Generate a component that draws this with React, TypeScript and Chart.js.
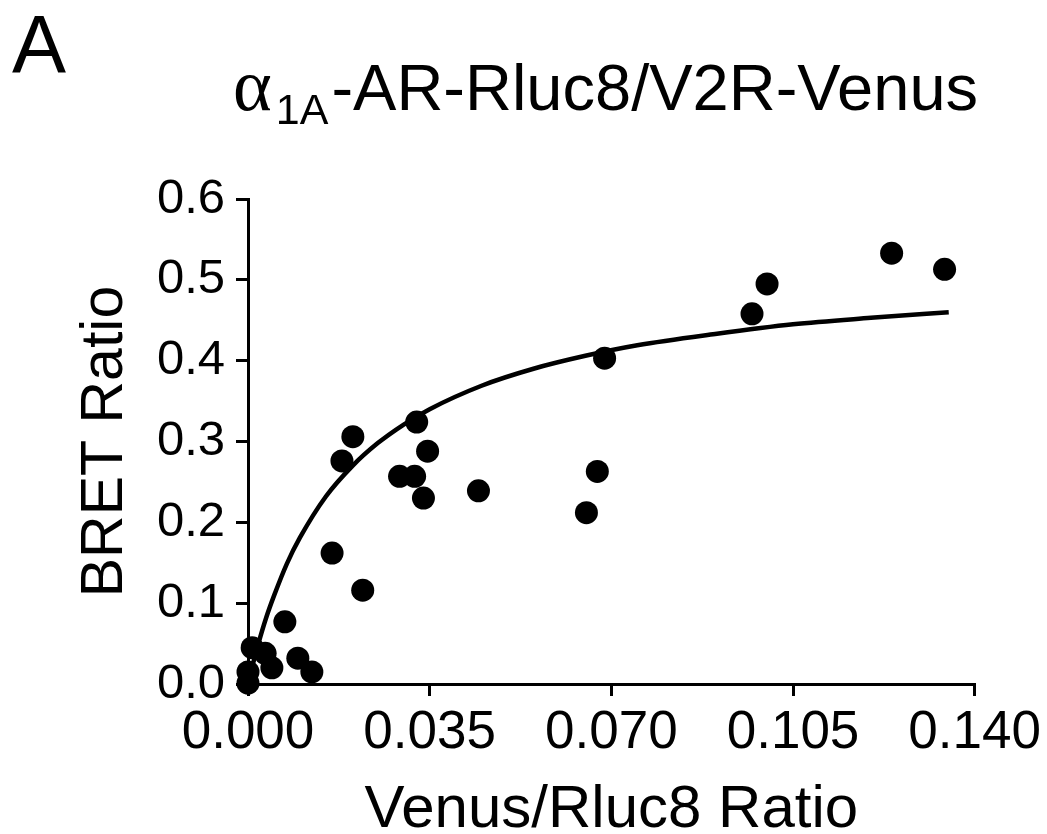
import React, { useEffect, useRef } from "react";
import { Chart, registerables } from "chart.js";

Chart.register(...registerables);

// Measured data points (Venus/Rluc8 ratio, BRET ratio)
const pointX = [
  0.0, 0.0, 0.0008, 0.0033, 0.0046, 0.0096, 0.0123, 0.0071, 0.0162, 0.0221,
  0.0202, 0.0181, 0.0325, 0.0346, 0.0292, 0.0321, 0.0338, 0.0444, 0.0673, 0.0652,
  0.0687, 0.0971, 0.1, 0.124, 0.1342,
];
const pointY = [
  0.001, 0.015, 0.045, 0.038, 0.02, 0.032, 0.015, 0.077, 0.162, 0.116,
  0.306, 0.276, 0.324, 0.288, 0.257, 0.257, 0.23, 0.239, 0.263, 0.212,
  0.403, 0.458, 0.495, 0.533, 0.513,
];

// Fitted saturation curve
const curveX = [
  0.0, 0.001, 0.002, 0.0035, 0.005, 0.0075, 0.01, 0.015, 0.02, 0.025, 0.03, 0.035,
  0.045, 0.055, 0.065, 0.075, 0.09, 0.105, 0.12, 0.135,
];
const curveY = [
  0.0, 0.026, 0.05, 0.082, 0.109, 0.149, 0.181, 0.232, 0.269, 0.298, 0.321, 0.34,
  0.369, 0.39, 0.406, 0.419, 0.433, 0.445, 0.453, 0.46,
];

const xTicks = [0.0, 0.035, 0.07, 0.105, 0.14];
const yTicks = [0.0, 0.1, 0.2, 0.3, 0.4, 0.5, 0.6];

const FONT = "'Liberation Sans', Arial, Helvetica, sans-serif";

export default function App() {
  const ref = useRef<HTMLCanvasElement | null>(null);

  useEffect(() => {
    if (!ref.current) return;
    const chart = new Chart(ref.current, {
      type: "scatter",
      data: {
        datasets: [
          {
            label: "data",
            data: pointX.map((x, i) => ({ x, y: pointY[i] })),
            backgroundColor: "#000",
            borderColor: "#000",
            pointRadius: 11.5,
            pointHoverRadius: 11.5,
            borderWidth: 0,
            clip: false as any,
          },
          {
            label: "fit",
            type: "line" as any,
            data: curveX.map((x, i) => ({ x, y: curveY[i] })),
            borderColor: "#000",
            borderWidth: 4.5,
            pointRadius: 0,
            fill: false,
            cubicInterpolationMode: "monotone",
            showLine: true,
          } as any,
        ],
      },
      options: {
        responsive: false,
        animation: false,
        devicePixelRatio: 1,
        layout: { padding: { top: 199, right: 71, left: 0, bottom: 0 } },
        plugins: {
          legend: { display: false },
          tooltip: { enabled: false },
          title: { display: false },
        },
        scales: {
          x: {
            type: "linear",
            min: 0,
            max: 0.14,
            afterBuildTicks: (s: any) => {
              s.ticks = xTicks.map((v) => ({ value: v }));
            },
            afterFit: (s: any) => {
              s.height = 150;
            },
            ticks: {
              color: "#000",
              font: { family: FONT, size: 53 },
              padding: 6,
              maxRotation: 0,
              callback: (v: any) => Number(v).toFixed(3),
            },
            grid: {
              display: true,
              drawOnChartArea: false,
              drawTicks: true,
              tickLength: 12,
              color: "#000",
              lineWidth: 3,
            },
            border: { display: true, color: "#000", width: 3 },
            title: {
              display: true,
              text: "Venus/Rluc8 Ratio",
              color: "#000",
              font: { family: FONT, size: 60 },
              padding: { top: 0, bottom: -12 },
            },
          },
          y: {
            type: "linear",
            min: 0,
            max: 0.6,
            afterBuildTicks: (s: any) => {
              s.ticks = yTicks.map((v) => ({ value: v }));
            },
            afterFit: (s: any) => {
              s.width = 248;
            },
            ticks: {
              color: "#000",
              font: { family: FONT, size: 49 },
              padding: 11,
              callback: (v: any) => Number(v).toFixed(1),
            },
            grid: {
              display: true,
              drawOnChartArea: false,
              drawTicks: true,
              tickLength: 12,
              color: "#000",
              lineWidth: 3,
            },
            border: { display: true, color: "#000", width: 3 },
            title: {
              display: true,
              text: "BRET Ratio",
              color: "#000",
              font: { family: FONT, size: 59 },
              padding: { top: 70, bottom: 0 },
            },
          },
        },
      },
    });
    return () => chart.destroy();
  }, []);

  return (
    <div
      style={{
        position: "absolute",
        left: 0,
        top: 0,
        width: 1047,
        height: 834,
        background: "#fff",
        fontFamily: FONT,
        color: "#000",
      }}
    >
      <canvas ref={ref} width={1047} height={834} style={{ position: "absolute", left: 0, top: 0 }} />
      <div
        style={{
          position: "absolute",
          left: 12,
          top: 4,
          fontSize: 81,
          lineHeight: "81px",
        }}
      >
        A
      </div>
      <div
        style={{
          position: "absolute",
          left: 233,
          top: 53,
          fontSize: 65,
          lineHeight: "65px",
          whiteSpace: "nowrap",
        }}
      >
        <span style={{ fontFamily: "'Liberation Serif', 'Times New Roman', serif", fontSize: 74 }}>α</span>
        <span style={{ fontSize: 43, position: "relative", top: 14, marginLeft: 4 }}>1A</span>
        <span style={{ marginLeft: 3 }}>-AR-Rluc8/V2R-Venus</span>
      </div>
    </div>
  );
}
